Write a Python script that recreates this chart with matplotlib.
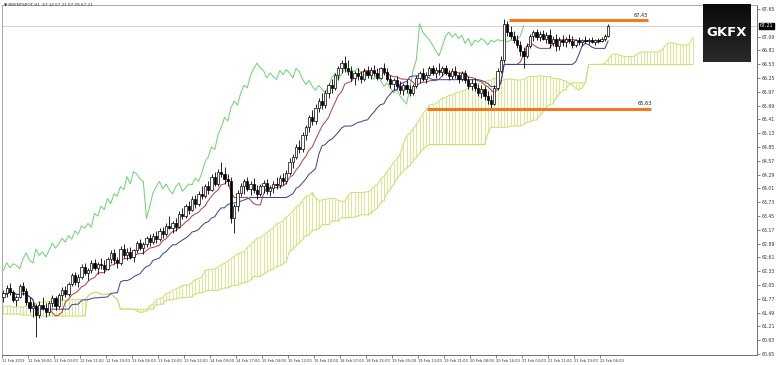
import numpy as np
import pandas as pd
import matplotlib
matplotlib.use("Agg")
import matplotlib.pyplot as plt

# ---------------- data ----------------
opens = [
61.80, 61.88, 61.98, 61.90, 61.75, 61.80, 62.02, 61.92, 61.70, 61.58,
61.62, 61.45, 61.65, 61.58, 61.50, 61.68, 61.78, 61.62, 61.84, 61.95,
61.86, 62.08, 62.25, 62.12, 62.22, 62.42, 62.30, 62.35, 62.50, 62.40,
62.48, 62.45, 62.38, 62.58, 62.70, 62.55, 62.50, 62.78, 62.65, 62.72,
62.62, 62.75, 62.90, 62.80, 62.88, 63.00, 62.92, 63.05, 62.98, 63.15,
63.08, 63.25, 63.20, 63.30, 63.22, 63.50, 63.45, 63.65, 63.58, 63.80,
63.70, 63.90, 63.85, 64.05, 63.98, 64.25, 64.10, 64.35, 64.30, 64.20,
64.15, 63.40, 63.65, 63.92, 64.05, 64.15, 64.00, 64.10, 63.98, 63.90,
64.05, 64.12, 63.95, 64.02, 64.10, 64.08, 64.22, 64.15, 64.32, 64.55,
64.65, 64.85, 64.80, 65.10, 65.25, 65.45, 65.38, 65.65, 65.78, 65.70,
65.95, 66.10, 66.05, 66.30, 66.45, 66.55, 66.45, 66.40, 66.25, 66.35,
66.28, 66.22, 66.40, 66.32, 66.42, 66.35, 66.25, 66.45, 66.38, 66.22,
66.12, 66.20, 66.08, 66.00, 66.10, 66.02, 65.95, 66.08, 66.25, 66.35,
66.22, 66.32, 66.45, 66.35, 66.42, 66.38, 66.45, 66.35, 66.28, 66.40,
66.30, 66.22, 66.35, 66.20, 66.08, 66.15, 66.05, 65.95, 66.02, 65.88,
65.80, 65.72, 66.05, 66.40, 66.62, 67.35, 67.18, 67.10, 67.02, 66.92,
66.80, 66.70, 66.90, 67.10, 67.18, 67.08, 67.15, 67.05, 67.12, 66.95,
67.05, 66.90, 67.02, 66.98, 67.05, 67.00, 66.92, 67.02, 66.98, 67.03,
67.00, 67.02, 66.98, 67.02, 67.00, 67.04, 67.10,
]
highs = [
61.95, 62.05, 62.10, 61.95, 61.85, 62.08, 62.12, 61.98, 61.80, 61.70,
61.66, 61.72, 61.80, 61.68, 61.72, 61.85, 61.82, 61.88, 62.00, 62.02,
62.12, 62.30, 62.32, 62.28, 62.48, 62.50, 62.40, 62.55, 62.58, 62.52,
62.60, 62.55, 62.62, 62.75, 62.78, 62.62, 62.85, 62.88, 62.80, 62.82,
62.78, 62.95, 62.98, 62.92, 63.05, 63.08, 63.10, 63.15, 63.20, 63.22,
63.30, 63.45, 63.35, 63.40, 63.55, 63.62, 63.70, 63.75, 63.85, 63.88,
63.95, 64.05, 64.10, 64.15, 64.30, 64.35, 64.40, 64.55, 64.45, 64.30,
64.25, 63.70, 63.98, 64.12, 64.20, 64.25, 64.15, 64.22, 64.08, 64.10,
64.18, 64.20, 64.08, 64.15, 64.25, 64.28, 64.32, 64.38, 64.62, 64.70,
64.92, 65.00, 65.15, 65.30, 65.50, 65.60, 65.72, 65.85, 65.95, 66.00,
66.15, 66.22, 66.35, 66.50, 66.62, 66.70, 66.62, 66.50, 66.40, 66.45,
66.40, 66.45, 66.50, 66.48, 66.52, 66.45, 66.48, 66.55, 66.45, 66.30,
66.25, 66.28, 66.18, 66.15, 66.20, 66.10, 66.12, 66.30, 66.40, 66.45,
66.38, 66.50, 66.52, 66.48, 66.55, 66.50, 66.52, 66.42, 66.45, 66.50,
66.38, 66.40, 66.42, 66.28, 66.22, 66.25, 66.12, 66.10, 66.08, 65.98,
65.90, 66.10, 66.45, 66.70, 67.45, 67.40, 67.30, 67.20, 67.12, 67.00,
66.88, 66.95, 67.15, 67.22, 67.25, 67.20, 67.22, 67.18, 67.25, 67.10,
67.15, 67.08, 67.12, 67.08, 67.15, 67.10, 67.05, 67.08, 67.05, 67.10,
67.06, 67.08, 67.05, 67.06, 67.08, 67.15, 67.35,
]
lows = [
61.70, 61.80, 61.85, 61.70, 61.62, 61.78, 61.85, 61.65, 61.50, 61.40,
61.00, 61.38, 61.55, 61.40, 61.45, 61.60, 61.55, 61.58, 61.75, 61.80,
61.82, 62.02, 62.05, 62.00, 62.18, 62.25, 62.15, 62.30, 62.35, 62.28,
62.38, 62.30, 62.35, 62.50, 62.48, 62.40, 62.45, 62.60, 62.55, 62.58,
62.52, 62.70, 62.75, 62.68, 62.82, 62.85, 62.88, 62.90, 62.95, 63.00,
63.05, 63.18, 63.10, 63.15, 63.20, 63.38, 63.40, 63.50, 63.55, 63.62,
63.65, 63.80, 63.82, 63.90, 63.95, 64.05, 64.05, 64.25, 64.10, 64.05,
63.30, 63.10, 63.55, 63.85, 63.90, 63.95, 63.88, 63.92, 63.80, 63.85,
63.92, 63.90, 63.85, 63.92, 64.00, 64.02, 64.08, 64.10, 64.28, 64.42,
64.60, 64.72, 64.75, 65.00, 65.15, 65.30, 65.32, 65.55, 65.62, 65.65,
65.85, 65.95, 66.00, 66.20, 66.35, 66.38, 66.30, 66.18, 66.10, 66.20,
66.15, 66.18, 66.25, 66.22, 66.28, 66.20, 66.22, 66.30, 66.18, 66.05,
66.00, 66.02, 65.92, 65.90, 65.95, 65.88, 65.90, 66.05, 66.15, 66.18,
66.15, 66.28, 66.30, 66.25, 66.32, 66.28, 66.30, 66.20, 66.22, 66.25,
66.15, 66.18, 66.15, 66.02, 66.00, 65.98, 65.88, 65.85, 65.80, 65.72,
65.60, 65.70, 66.00, 66.35, 66.55, 67.10, 67.05, 66.95, 66.85, 66.70,
66.45, 66.65, 66.85, 67.00, 67.02, 67.00, 67.02, 66.95, 66.85, 66.90,
66.80, 66.82, 66.90, 66.88, 66.95, 66.85, 66.88, 66.92, 66.90, 66.95,
66.94, 66.95, 66.92, 66.96, 66.97, 67.00, 67.08,
]
closes = [
61.88, 61.98, 61.90, 61.75, 61.80, 62.02, 61.92, 61.70, 61.58, 61.62,
61.45, 61.65, 61.58, 61.50, 61.68, 61.78, 61.62, 61.84, 61.95, 61.86,
62.08, 62.25, 62.12, 62.22, 62.42, 62.30, 62.35, 62.50, 62.40, 62.48,
62.45, 62.38, 62.58, 62.70, 62.55, 62.50, 62.78, 62.65, 62.72, 62.62,
62.75, 62.90, 62.80, 62.88, 63.00, 62.92, 63.05, 62.98, 63.15, 63.08,
63.25, 63.20, 63.30, 63.22, 63.50, 63.45, 63.65, 63.58, 63.80, 63.70,
63.90, 63.85, 64.05, 63.98, 64.25, 64.10, 64.35, 64.30, 64.20, 64.15,
63.40, 63.65, 63.92, 64.05, 64.15, 64.00, 64.10, 63.98, 63.90, 64.05,
64.12, 63.95, 64.02, 64.10, 64.08, 64.22, 64.15, 64.32, 64.55, 64.65,
64.85, 64.80, 65.10, 65.25, 65.45, 65.38, 65.65, 65.78, 65.70, 65.95,
66.10, 66.05, 66.30, 66.45, 66.55, 66.45, 66.40, 66.25, 66.35, 66.28,
66.22, 66.40, 66.32, 66.42, 66.35, 66.25, 66.45, 66.38, 66.22, 66.12,
66.20, 66.08, 66.00, 66.10, 66.02, 65.95, 66.08, 66.25, 66.35, 66.22,
66.32, 66.45, 66.35, 66.42, 66.38, 66.45, 66.35, 66.28, 66.40, 66.30,
66.22, 66.35, 66.20, 66.08, 66.15, 66.05, 65.95, 66.02, 65.88, 65.80,
65.72, 66.05, 66.40, 66.62, 67.35, 67.18, 67.10, 67.02, 66.92, 66.80,
66.70, 66.90, 67.10, 67.18, 67.08, 67.15, 67.05, 67.12, 66.95, 67.05,
66.90, 67.02, 66.98, 67.05, 67.00, 66.92, 67.02, 66.98, 67.03, 67.00,
67.02, 66.98, 67.02, 67.00, 67.04, 67.10, 67.31,
]
# leading cloud values for the first 26 positions (computed from bars before the window)
spanA_head = [61.62, 61.62, 61.62, 61.60, 61.60, 61.60, 61.60, 61.62, 61.65, 61.65,
              61.68, 61.70, 61.70, 61.70, 61.72, 61.72, 61.72, 61.72, 61.74, 61.74,
              61.75, 61.75, 61.76, 61.76, 61.76, 61.76]
spanB_head = [61.46, 61.46, 61.46, 61.46, 61.46, 61.46, 61.44, 61.44, 61.44, 61.42,
              61.42, 61.42, 61.42, 61.42, 61.42, 61.42, 61.42, 61.42, 61.42, 61.42,
              61.42, 61.42, 61.42, 61.42, 61.42, 61.42]

x_labels = ["11 Feb 2019", "11 Feb 16:00", "12 Feb 03:00", "12 Feb 11:00",
            "12 Feb 19:00", "13 Feb 06:00", "13 Feb 14:00", "13 Feb 22:00",
            "14 Feb 09:00", "14 Feb 17:00", "15 Feb 04:00", "15 Feb 12:00",
            "15 Feb 20:00", "18 Feb 07:00", "18 Feb 15:00", "19 Feb 05:00",
            "19 Feb 13:00", "19 Feb 21:00", "20 Feb 08:00", "20 Feb 16:00",
            "21 Feb 03:00", "21 Feb 11:00", "21 Feb 19:00", "22 Feb 06:00"]
y_ticks = [67.65, 67.09, 66.81, 66.53, 66.25, 65.97, 65.69, 65.41,
           65.13, 64.85, 64.57, 64.29, 64.01, 63.73, 63.45, 63.17, 62.89,
           62.61, 62.33, 62.05, 61.77, 61.49, 61.21, 60.93, 60.65]
level_high = 67.43
level_low = 65.63
price_label = "67.21"
title_text = "BRENTSPOT,H1  67.14 67.21 67.09 67.21"

# ---------------- indicators (Ichimoku 9/26/52) ----------------
n = len(closes)
H = pd.Series(highs); L = pd.Series(lows); C = pd.Series(closes)
tenkan = (H.rolling(9, min_periods=1).max() + L.rolling(9, min_periods=1).min()) / 2
kijun = (H.rolling(26, min_periods=1).max() + L.rolling(26, min_periods=1).min()) / 2
spanA_raw = (tenkan + kijun) / 2
spanB_raw = (H.rolling(52, min_periods=1).max() + L.rolling(52, min_periods=1).min()) / 2
spanA = np.concatenate([spanA_head, spanA_raw.values])
spanB = np.concatenate([spanB_head, spanB_raw.values])
ext = len(spanA)
chikou = C.shift(-26).values

# ---------------- figure ----------------
W, Hh = 780, 365
YMIN, YMAX = 60.63, 67.73
fig = plt.figure(figsize=(W / 100, Hh / 100), dpi=100)
fig.patch.set_facecolor("white")
ax = fig.add_axes([2 / W, 10 / Hh, 755 / W, 350 / Hh])
ax.set_xlim(-0.46, 231.8)
ax.set_ylim(YMIN, YMAX)

xs = np.arange(n)
xc = np.arange(ext)
ax.vlines(xc, np.minimum(spanA, spanB), np.maximum(spanA, spanB),
          color="#d9e98f", lw=0.7, zorder=1)
ax.plot(xc, spanA, color="#c9de6e", lw=0.7, zorder=1.1)
ax.plot(xc, spanB, color="#c9de6e", lw=0.7, zorder=1.1)

ax.plot(xs, chikou, color="#6cd26c", lw=0.7, zorder=2)
ax.plot(xs, tenkan, color="#b83a3a", lw=0.7, zorder=3)
ax.plot(xs, kijun, color="#3a3aa0", lw=0.7, zorder=3)

o = np.array(opens); c = np.array(closes)
ax.vlines(xs, lows, highs, color="black", lw=0.6, zorder=4)
up = c >= o
body = np.maximum(np.abs(c - o), 0.012)
ax.bar(xs[up], body[up], bottom=np.minimum(o, c)[up],
       width=0.7, facecolor="white", edgecolor="black", lw=0.5, zorder=5)
ax.bar(xs[~up], body[~up], bottom=np.minimum(o, c)[~up],
       width=0.7, facecolor="black", edgecolor="black", lw=0.5, zorder=5)

ax.axhline(closes[-1], color="#c8c8c8", lw=0.6, zorder=0.5)

ax.hlines(level_high, 155.5, 198.3, color="#f27a1f", lw=2.2, zorder=6)
ax.hlines(level_low, 130.3, 199.2, color="#f27a1f", lw=2.2, zorder=6)
ax.text(194.0, level_high + 0.05, "67,43", fontsize=3.6, color="#222222",
        ha="left", va="bottom", zorder=7)
ax.text(195.0, level_low + 0.05, "65,63", fontsize=3.6, color="#222222",
        ha="left", va="bottom", zorder=7)

for s in ["top", "left"]:
    ax.spines[s].set_color("#9a9a9a"); ax.spines[s].set_linewidth(0.6)
for s in ["right", "bottom"]:
    ax.spines[s].set_color("#707070"); ax.spines[s].set_linewidth(0.7)
ax.yaxis.tick_right()
ax.set_yticks(y_ticks)
ax.set_yticklabels([f"{v:.2f}" for v in y_ticks], fontsize=3.3)
ax.tick_params(axis="y", length=2, width=0.5, pad=1.5, colors="#555555")
ax.set_xticks([8 * k - 0.46 for k in range(len(x_labels))])
ax.set_xticklabels(x_labels, fontsize=2.65, ha="left")
ax.tick_params(axis="x", length=2, width=0.5, pad=1.0, colors="#555555")
for t in ax.get_xticklabels() + ax.get_yticklabels():
    t.set_color("#333333")

ax.text(1.004, (closes[-1] - YMIN) / (YMAX - YMIN), price_label, transform=ax.transAxes,
        fontsize=3.3, color="white", ha="left", va="center", zorder=20,
        bbox=dict(boxstyle="square,pad=0.15", fc="black", ec="black"), clip_on=False)

fig.text(4 / W, 1 - 4.5 / Hh, "\u25bc " + title_text, fontsize=3.0, color="#333333",
         ha="left", va="center")

logo = fig.add_axes([703 / W, 1 - 62 / Hh, 48 / W, 58 / Hh])
logo.set_xlim(0, 1); logo.set_ylim(0, 1)
grad = np.linspace(0, 1, 100).reshape(-1, 1)
logo.imshow(grad, extent=[0, 1, 0, 1], cmap=matplotlib.colors.LinearSegmentedColormap.from_list(
    "g", ["#0a0a0a", "#2a2a2a"]), aspect="auto")
logo.text(0.5, 0.5, "GKFX", color="white", fontsize=9.5, fontweight="bold",
          ha="center", va="center")
logo.axis("off")

fig.savefig("out.png", dpi=100, facecolor="white")
